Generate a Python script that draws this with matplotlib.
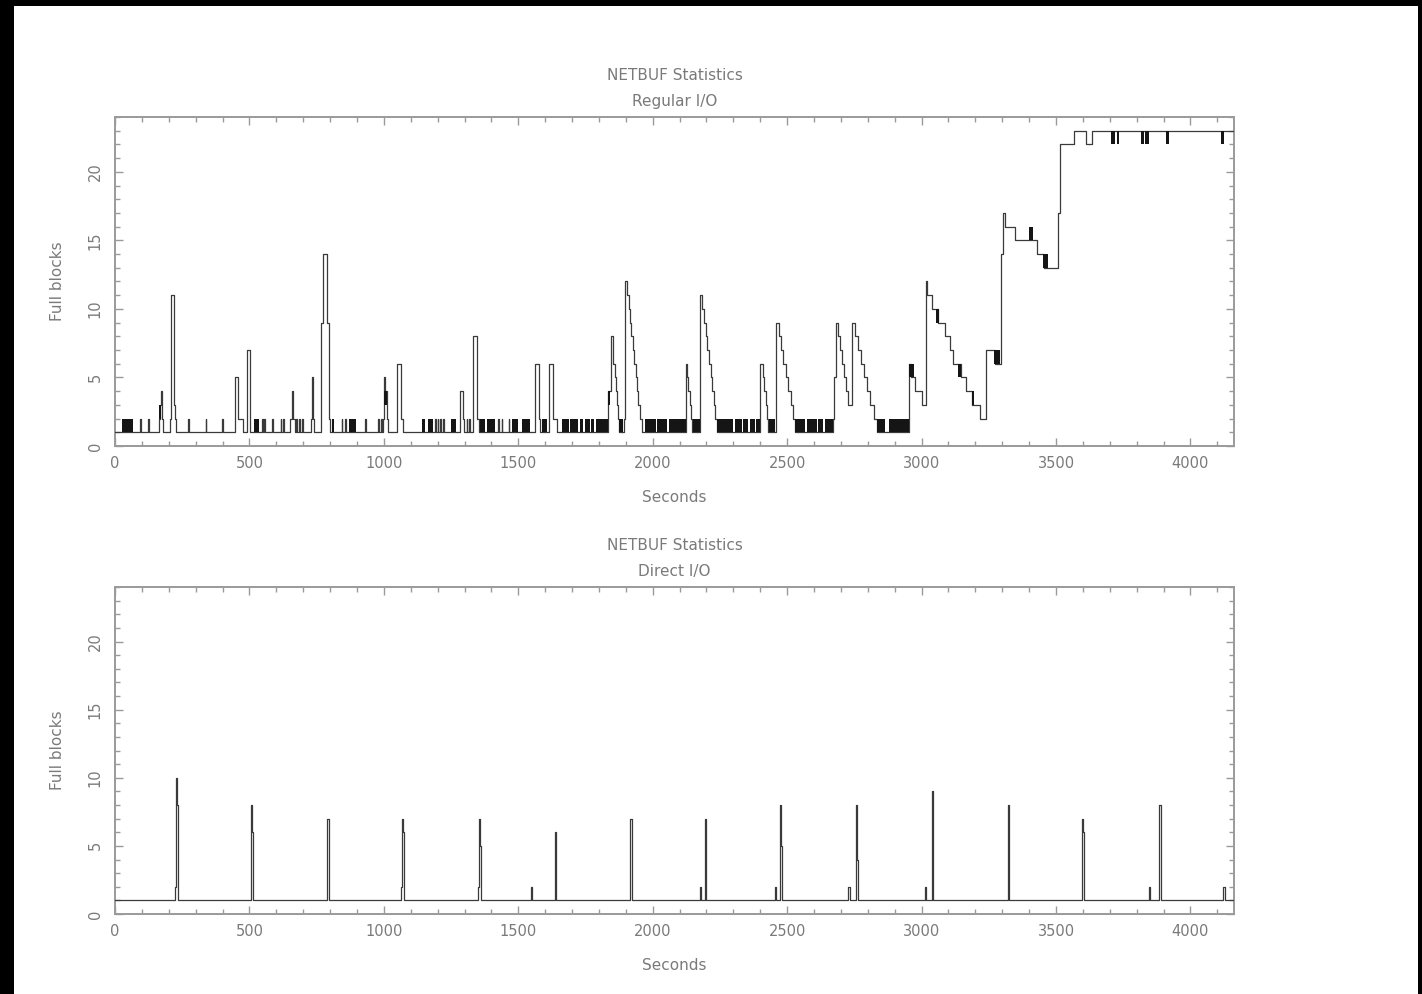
import matplotlib
matplotlib.use("Agg")
import matplotlib.pyplot as plt
from matplotlib.patches import Rectangle
from matplotlib.ticker import MultipleLocator

# ---------------- data ----------------
# Regular I/O: step series (time in s where value changes, new value)
reg_t = [0, 93, 96, 124, 127, 165, 168, 171, 176, 180,
         205, 209, 218, 224, 228, 273, 276, 337, 340, 399, 402,
         446, 458, 475, 490, 503, 548, 551, 556, 559, 585, 588,
         616, 619, 625, 628, 652, 657, 663, 668, 675, 678, 685, 688, 697, 700,
         728, 731, 735, 738, 742, 765, 767, 772, 787, 795, 800,
         843, 846, 857, 860, 929, 932, 979, 982, 990, 993,
         998, 1002, 1006, 1013, 1016, 1048, 1064, 1072,
         1190, 1193, 1200, 1203, 1210, 1213, 1221, 1224,
         1283, 1285, 1294, 1297, 1308, 1311, 1318, 1321,
         1333, 1347, 1352, 1425, 1428, 1438, 1441, 1464, 1467,
         1562, 1577, 1580, 1615, 1628, 1643,
         1835, 1843, 1853, 1858, 1862, 1867, 1871, 1875,
         1893, 1897, 1905, 1910, 1916, 1921, 1926, 1931, 1937, 1942, 1947, 1953, 1959,
         2122, 2127, 2132, 2137, 2142, 2147,
         2176, 2185, 2191, 2197, 2203, 2209, 2215, 2221, 2227, 2233, 2238,
         2400, 2410, 2415, 2420, 2425, 2430,
         2458, 2468, 2477, 2486, 2495, 2504, 2513, 2521, 2529,
         2672, 2676, 2680, 2690, 2697, 2705, 2712, 2719, 2727,
         2740, 2752, 2763, 2774, 2786, 2798, 2810, 2822, 2833,
         2953, 2960, 2975, 3000, 3018, 3021, 3037, 3062, 3087, 3105, 3118,
         3148, 3167, 3186, 3217, 3239, 3273, 3297, 3302, 3310, 3348, 3429,
         3454, 3509, 3513, 3567, 3613, 3633, 4160]
reg_v = [1, 2, 1, 2, 1, 2, 3, 4, 2, 1,
         2, 11, 3, 2, 1, 2, 1, 2, 1, 2, 1,
         5, 2, 1, 7, 1, 2, 1, 2, 1, 2, 1,
         2, 1, 2, 1, 2, 4, 2, 1, 2, 1, 2, 1, 2, 1,
         2, 5, 4, 2, 1, 2, 9, 14, 9, 2, 1,
         2, 1, 2, 1, 2, 1, 2, 1, 2, 1,
         2, 5, 4, 2, 1, 6, 2, 1,
         2, 1, 2, 1, 2, 1, 2, 1,
         2, 4, 2, 1, 2, 1, 2, 1,
         8, 2, 1, 2, 1, 2, 1, 2, 1,
         6, 2, 1, 6, 2, 1,
         4, 8, 6, 5, 4, 3, 2, 1,
         2, 12, 11, 10, 9, 8, 7, 6, 5, 4, 3, 2, 1,
         6, 5, 4, 3, 2, 1,
         11, 10, 9, 8, 7, 6, 5, 4, 3, 2, 1,
         6, 5, 4, 3, 2, 1,
         9, 8, 7, 6, 5, 4, 3, 2, 1,
         2, 5, 9, 8, 7, 6, 5, 4, 3,
         9, 8, 7, 6, 5, 4, 3, 2, 1,
         6, 5, 4, 3, 12, 11, 10, 9, 8, 7, 6,
         5, 4, 3, 2, 7, 6, 14, 17, 16, 15, 14,
         13, 17, 22, 23, 22, 23, 23]

# Regular I/O: rapid flicker bursts between two levels (start s, end s, low, high)
burst_start = [25, 517, 806, 872, 1140, 1164, 1251, 1357, 1382, 1477, 1514, 1587,
               1661, 1693, 1730, 1748, 1772, 1788, 1875, 1973, 2017, 2060,
               2151, 2240, 2306, 2337, 2362, 2385, 2433, 2529, 2573, 2616, 2641,
               2834, 2877, 2953, 3053, 3136, 3186, 3271, 3401, 3451,
               3706, 3726, 3816, 3832, 3909, 4113, 165, 1000, 1835]
burst_end = [68, 535, 815, 898, 1153, 1183, 1270, 1376, 1414, 1500, 1545, 1608,
             1690, 1722, 1740, 1765, 1782, 1835, 1890, 2011, 2054, 2122,
             2176, 2300, 2331, 2356, 2381, 2400, 2455, 2566, 2610, 2635, 2672,
             2865, 2952, 2972, 3066, 3148, 3196, 3290, 3416, 3472,
             3720, 3736, 3826, 3847, 3919, 4126, 171, 1012, 1840]
burst_low = [1, 1, 1, 1, 1, 1, 1, 1, 1, 1, 1, 1,
             1, 1, 1, 1, 1, 1, 1, 1, 1, 1,
             1, 1, 1, 1, 1, 1, 1, 1, 1, 1, 1,
             1, 1, 5, 9, 5, 3, 6, 15, 13,
             22, 22, 22, 22, 22, 22, 2, 3, 3]
burst_high = [2, 2, 2, 2, 2, 2, 2, 2, 2, 2, 2, 2,
              2, 2, 2, 2, 2, 2, 2, 2, 2, 2,
              2, 2, 2, 2, 2, 2, 2, 2, 2, 2, 2,
              2, 2, 6, 10, 6, 4, 7, 16, 14,
              23, 23, 23, 23, 23, 23, 3, 4, 4]

# Direct I/O: step series
dir_t = [0, 222, 226, 229, 233, 505, 508, 513, 787, 790, 795,
         1063, 1068, 1071, 1076, 1350, 1353, 1356, 1360, 1548, 1552,
         1636, 1641, 1917, 1922, 2175, 2180, 2193, 2198,
         2456, 2460, 2473, 2476, 2480, 2725, 2732, 2756, 2759, 2763,
         3011, 3015, 3038, 3044, 3320, 3325, 3597, 3600, 3604,
         3845, 3849, 3883, 3889, 4122, 4127, 4160]
dir_v = [1, 2, 10, 8, 1, 8, 6, 1, 2, 7, 1,
         2, 7, 6, 1, 2, 7, 5, 1, 2, 1,
         6, 1, 7, 1, 2, 1, 7, 1,
         2, 1, 8, 5, 1, 2, 1, 8, 4, 1,
         2, 1, 9, 1, 8, 1, 7, 6, 1,
         2, 1, 8, 1, 2, 1, 1]

titles = ["NETBUF Statistics\nRegular I/O", "NETBUF Statistics\nDirect I/O"]
x_label = "Seconds"
y_label = "Full blocks"

# ---------------- figure ----------------
W, H = 1422, 994
fig = plt.figure(figsize=(W / 100, H / 100), dpi=100, facecolor="black")
bg = Rectangle((14 / W, 0), (1418 - 14) / W, (994 - 6) / H,
               transform=fig.transFigure, facecolor="white",
               edgecolor="none", zorder=-10)
fig.patches.append(bg)

txt_col = "#7a7a7a"
spine_col = "#9a9a9a"
line_col = "#3a3a3a"

def px_axes(left, top, right, bottom):
    return fig.add_axes([left / W, 1 - bottom / H, (right - left) / W, (bottom - top) / H])

ax1 = px_axes(115, 117, 1234, 446)
ax2 = px_axes(115, 587, 1234, 914)

def style(ax, title):
    ax.set_xlim(0, 4162)
    ax.set_ylim(0, 24)
    ax.xaxis.set_major_locator(MultipleLocator(500))
    ax.xaxis.set_minor_locator(MultipleLocator(100))
    ax.yaxis.set_major_locator(MultipleLocator(5))
    ax.yaxis.set_minor_locator(MultipleLocator(1))
    ax.tick_params(which="both", direction="in", top=True, right=True,
                   color=spine_col, labelcolor=txt_col, labelsize=10.5, width=1.0)
    ax.tick_params(which="major", length=6)
    ax.tick_params(which="minor", length=3.5)
    ax.tick_params(axis="x", pad=7)
    ax.tick_params(axis="y", pad=9, labelrotation=90)
    for lab in ax.get_yticklabels():
        lab.set_verticalalignment("center")
    for s in ax.spines.values():
        s.set_color(spine_col)
        s.set_linewidth(1.4)
    ax.set_xlabel(x_label, color=txt_col, fontsize=11, labelpad=14)
    ax.set_ylabel(y_label, color=txt_col, fontsize=11, labelpad=16)
    ax.set_title(title, color=txt_col, fontsize=11, pad=8, linespacing=1.9)

style(ax1, titles[0])
style(ax2, titles[1])

ax1.step(reg_t, reg_v, where="post", color=line_col, lw=0.9, zorder=3)
for s, e, lo, hi in zip(burst_start, burst_end, burst_low, burst_high):
    ax1.fill_between([s, e], lo, hi, color="#151515", lw=0, zorder=4)

ax2.step(dir_t, dir_v, where="post", color=line_col, lw=0.9, zorder=3)

fig.savefig("out.png", dpi=100, facecolor="black")
